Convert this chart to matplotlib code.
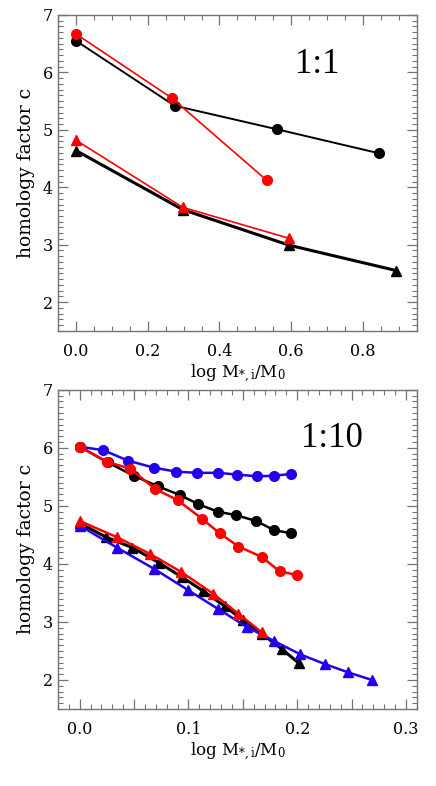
import matplotlib
matplotlib.use("Agg")
import matplotlib.pyplot as plt
from matplotlib.ticker import MultipleLocator, FuncFormatter

# ---- panel 1:1 ----
top_x_bc = [0.0, 0.275, 0.56, 0.846]
top_y_bc = [6.55, 5.42, 5.01, 4.59]
top_x_rc = [0.0, 0.268, 0.532]
top_y_rc = [6.67, 5.55, 4.12]
top_x_bt = [0.0, 0.298, 0.595, 0.893]
top_y_bt = [4.64, 3.61, 2.99, 2.55]
top_x_rt = [0.0, 0.298, 0.595]
top_y_rt = [4.82, 3.65, 3.11]

# ---- panel 1:10 ----
bot_x_bluec = [0.0, 0.0217, 0.0444, 0.068, 0.0888, 0.108, 0.127, 0.145, 0.163, 0.179, 0.194]
bot_y_bluec = [6.02, 5.96, 5.78, 5.66, 5.59, 5.57, 5.57, 5.54, 5.51, 5.52, 5.55]
bot_x_bc = [0.0, 0.0257, 0.0496, 0.0716, 0.0918, 0.109, 0.127, 0.144, 0.162, 0.179, 0.194]
bot_y_bc = [6.02, 5.75, 5.52, 5.34, 5.19, 5.03, 4.90, 4.84, 4.74, 4.58, 4.53]
bot_x_rc = [0.0, 0.0251, 0.0465, 0.0695, 0.09, 0.1123, 0.1286, 0.146, 0.1674, 0.184, 0.200]
bot_y_rc = [6.02, 5.76, 5.64, 5.29, 5.10, 4.78, 4.53, 4.30, 4.12, 3.87, 3.81]
bot_x_bt = [0.0, 0.0245, 0.0484, 0.0729, 0.0943, 0.113, 0.1335, 0.150, 0.168, 0.186, 0.2014]
bot_y_bt = [4.70, 4.46, 4.28, 4.02, 3.77, 3.54, 3.27, 3.03, 2.79, 2.53, 2.29]
bot_x_rt = [0.0, 0.0343, 0.0649, 0.0934, 0.1224, 0.146, 0.1674]
bot_y_rt = [4.74, 4.46, 4.17, 3.86, 3.49, 3.14, 2.82]
bot_x_bluet = [0.0, 0.0343, 0.068, 0.0995, 0.1276, 0.154, 0.1788, 0.203, 0.226, 0.247, 0.2687]
bot_y_bluet = [4.66, 4.28, 3.92, 3.55, 3.22, 2.91, 2.67, 2.44, 2.27, 2.13, 2.00]

BLUE = "#2200ee"
RED = "#ff0000"
plt.rcParams["font.family"] = ["DejaVu Serif"]
plt.rcParams["mathtext.fontset"] = "dejavuserif"

fig = plt.figure(figsize=(4.36, 7.86), dpi=100)
ax1 = fig.add_axes([0.133, 0.579, 0.823, 0.402])
ax2 = fig.add_axes([0.133, 0.098, 0.823, 0.406])


def style(ax, xmajor, xminor, fmt):
    ax.set_ylim(1.5, 7)
    ax.xaxis.set_major_locator(MultipleLocator(xmajor))
    ax.xaxis.set_minor_locator(MultipleLocator(xminor))
    ax.yaxis.set_major_locator(MultipleLocator(1))
    ax.yaxis.set_minor_locator(MultipleLocator(0.1))
    ax.xaxis.set_major_formatter(FuncFormatter(fmt))
    ax.tick_params(which="both", direction="in", top=True, right=True,
                   color="0.45", labelsize=11.5)
    ax.tick_params(which="major", length=7, width=0.9)
    ax.tick_params(which="minor", length=3.5, width=0.8)
    ax.tick_params(axis="x", pad=9)
    for s in ax.spines.values():
        s.set_color("0.45")
        s.set_linewidth(1.0)
    ax.set_ylabel("homology factor c", fontsize=13.5, labelpad=6)
    ax.set_xlabel(r"log M$_{*,\mathrm{i}}$/M$_0$", fontsize=12, labelpad=2)


ms = 7
ax1.plot(top_x_bc, top_y_bc, "-o", color="black", lw=1.4, ms=ms)
ax1.plot(top_x_rc, top_y_rc, "-o", color=RED, lw=1.2, ms=ms)
ax1.plot(top_x_bt, top_y_bt, "-^", color="black", lw=2.2, ms=ms)
ax1.plot(top_x_rt, top_y_rt, "-^", color=RED, lw=1.2, ms=ms)
ax1.set_xlim(-0.05, 0.95)
style(ax1, 0.2, 0.05, lambda v, p: f"{v:.1f}")
ax1.text(0.672, 6.13, "1:1", fontsize=25, ha="center", va="center",
         family=["Liberation Serif"])

ax2.plot(bot_x_bluec, bot_y_bluec, "-o", color=BLUE, lw=1.8, ms=ms)
ax2.plot(bot_x_bc, bot_y_bc, "-o", color="black", lw=1.8, ms=ms)
ax2.plot(bot_x_rc, bot_y_rc, "-o", color=RED, lw=1.8, ms=ms)
ax2.plot(bot_x_bt, bot_y_bt, "-^", color="black", lw=2.2, ms=ms)
ax2.plot(bot_x_bluet, bot_y_bluet, "-^", color=BLUE, lw=1.8, ms=ms)
ax2.plot(bot_x_rt, bot_y_rt, "-^", color=RED, lw=1.8, ms=ms)
ax2.set_xlim(-0.02, 0.31)


def fmt2(v, p):
    k = round(v / 0.05)
    return f"{v:.1f}" if k % 2 == 0 else ""


style(ax2, 0.05, 0.01, fmt2)
ax2.text(0.232, 6.16, "1:10", fontsize=25, ha="center", va="center",
         family=["Liberation Serif"])

fig.savefig("out.png", dpi=100)
